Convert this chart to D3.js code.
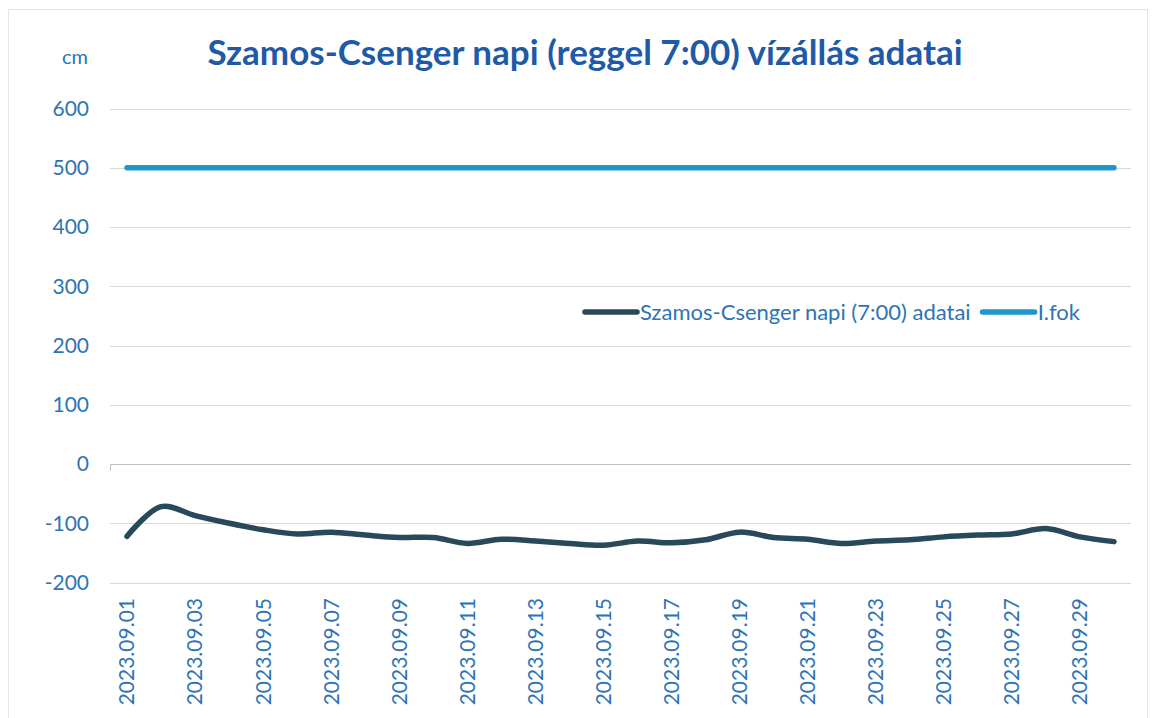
<!DOCTYPE html>
<html>
<head>
<meta charset="utf-8">
<script src="https://cdn.jsdelivr.net/npm/d3@7"></script>
<style>
  html, body { margin: 0; padding: 0; background: #ffffff; }
  svg { display: block; }
</style>
</head>
<body>
<svg id="chart" width="1157" height="718"></svg>
<script>
const dates = ["2023.09.01","2023.09.02","2023.09.03","2023.09.04","2023.09.05","2023.09.06","2023.09.07","2023.09.08","2023.09.09","2023.09.10",
  "2023.09.11","2023.09.12","2023.09.13","2023.09.14","2023.09.15","2023.09.16","2023.09.17","2023.09.18","2023.09.19","2023.09.20",
  "2023.09.21","2023.09.22","2023.09.23","2023.09.24","2023.09.25","2023.09.26","2023.09.27","2023.09.28","2023.09.29","2023.09.30"];
const waterLevel = [-122,-72,-87,-100,-111,-118,-115,-120,-124,-124,
  -134,-127,-130,-134,-137,-130,-133,-128,-115,-124,
  -127,-134,-130,-128,-123,-120,-118,-109,-123,-131];
const levelOne = dates.map(() => 500);
const yTicks = [-200,-100,0,100,200,300,400,500,600];
const titleText = "Szamos-Csenger napi (reggel 7:00) vízállás adatai";
const unitText = "cm";
const seriesNames = ["Szamos-Csenger napi (7:00) adatai", "I.fok"];

(function () {
const svg = d3.select("#chart");
const FONT = "Lato, 'Open Sans', sans-serif";
const labelColor = "#2e74b5";
const seriesColors = ["#27495a", "#2196c8"];

// border
svg.append("rect").attr("x", 8.5).attr("y", 9.5).attr("width", 1139).attr("height", 720)
  .attr("fill", "none").attr("stroke", "#e6e6e6").attr("stroke-width", 1);

const pLeft = 110, pRight = 1131, pTop = 108.5, pBottom = 582.5;
const x = d3.scaleBand().domain(dates).range([pLeft, pRight]);
const y = d3.scaleLinear().domain([-200, 600]).range([pBottom, pTop]);

// gridlines
svg.append("g").selectAll("line").data(yTicks.filter(d => d !== 0)).join("line")
  .attr("x1", pLeft).attr("x2", pRight)
  .attr("y1", d => Math.round(y(d)) + 0.5).attr("y2", d => Math.round(y(d)) + 0.5)
  .attr("stroke", "#d9d9d9").attr("stroke-width", 1);

// category axis at 0
const zeroY = Math.round(y(0)) + 0.5;
svg.append("line").attr("x1", pLeft).attr("x2", pRight).attr("y1", zeroY).attr("y2", zeroY)
  .attr("stroke", "#bfbfbf").attr("stroke-width", 1);
svg.append("line").attr("x1", pLeft + 0.5).attr("x2", pLeft + 0.5).attr("y1", zeroY).attr("y2", zeroY + 6)
  .attr("stroke", "#bfbfbf").attr("stroke-width", 1);

// y tick labels
svg.append("g").selectAll("text").data(yTicks).join("text")
  .attr("x", 89).attr("y", d => y(d))
  .attr("dy", "0.35em").attr("text-anchor", "end")
  .attr("font-family", FONT).attr("font-size", 21).attr("fill", labelColor)
  .text(d => d);

svg.append("text").attr("x", 88).attr("y", 57).attr("dy", "0.35em").attr("text-anchor", "end")
  .attr("font-family", FONT).attr("font-size", 20).attr("fill", labelColor).text(unitText);

// x labels (every 2nd)
svg.append("g").selectAll("text").data(dates.filter((d, i) => i % 2 === 0)).join("text")
  .attr("transform", d => `translate(${x(d) + x.bandwidth() / 2},598) rotate(-90)`)
  .attr("dy", "0.35em").attr("text-anchor", "end")
  .attr("font-family", FONT).attr("font-size", 21).attr("fill", labelColor)
  .text(d => d);

// series
const line = d3.line()
  .x((d, i) => x(dates[i]) + x.bandwidth() / 2)
  .y(d => y(d))
  .curve(d3.curveCatmullRom.alpha(0.5));

svg.append("path").datum(levelOne).attr("d", line)
  .attr("fill", "none").attr("stroke", seriesColors[1]).attr("stroke-width", 5.5).attr("stroke-linecap", "round");
svg.append("path").datum(waterLevel).attr("d", line)
  .attr("fill", "none").attr("stroke", seriesColors[0]).attr("stroke-width", 5.5)
  .attr("stroke-linecap", "round").attr("stroke-linejoin", "round");

// title
svg.append("text").attr("x", 585).attr("y", 53).attr("dy", "0.35em").attr("text-anchor", "middle")
  .attr("font-family", FONT).attr("font-weight", "bold").attr("font-size", 35).attr("fill", "#1f5aa6")
  .text(titleText);

// legend
const lg = svg.append("g");
let lx = 585;
[0, 1].forEach(i => {
  lg.append("line").attr("x1", lx).attr("x2", lx + 52).attr("y1", 312).attr("y2", 312)
    .attr("stroke", seriesColors[i]).attr("stroke-width", 5.5).attr("stroke-linecap", "round");
  const t = lg.append("text").attr("x", lx + 55).attr("y", 312).attr("dy", "0.35em")
    .attr("font-family", FONT).attr("font-size", 22).attr("fill", labelColor).text(seriesNames[i]);
  lx = lx + 55 + t.node().getComputedTextLength() + 12;
});
})();
</script>
</body>
</html>
